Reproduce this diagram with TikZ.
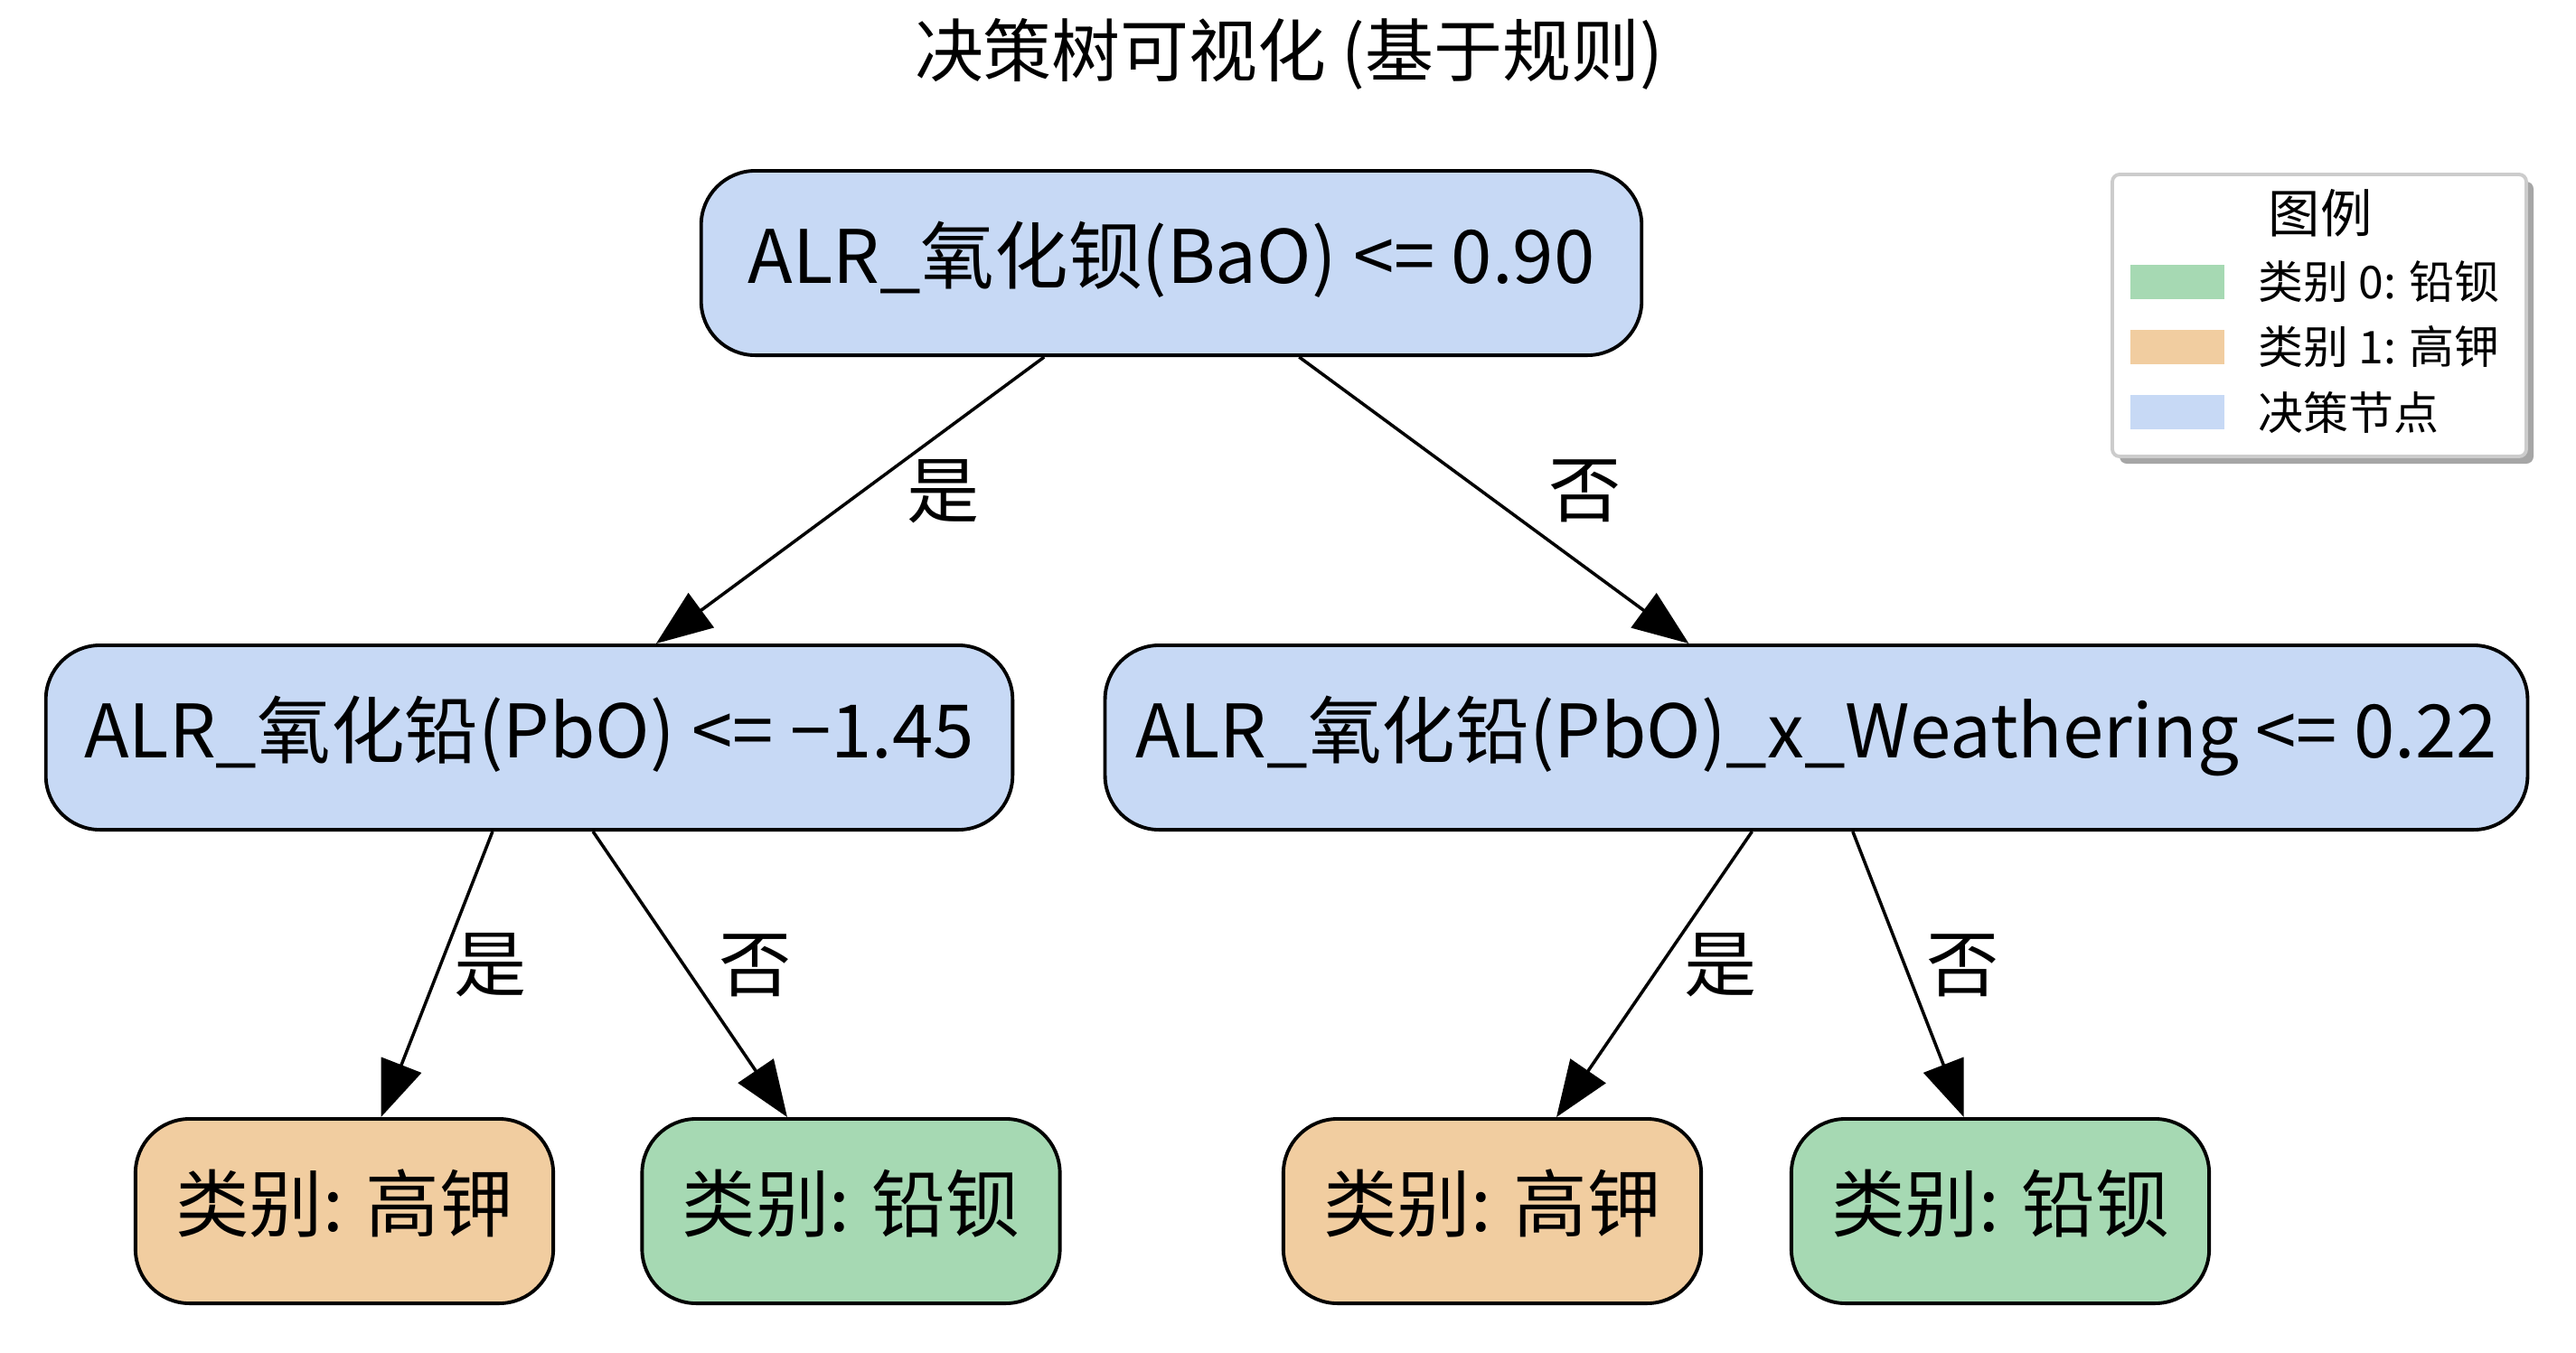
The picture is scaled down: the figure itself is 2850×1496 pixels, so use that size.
\documentclass[tikz,border=0pt]{standalone}
\usepackage{fontspec}
\setmainfont{Noto Sans CJK SC}
\usetikzlibrary{arrows.meta}
\definecolor{decblue}{RGB}{199,217,245}
\definecolor{potorange}{RGB}{241,205,160}
\definecolor{leadgreen}{RGB}{166,217,179}
\definecolor{legframe}{RGB}{204,204,204}
\definecolor{legshadow}{RGB}{166,166,166}
\begin{document}
\begin{tikzpicture}
    [x=0.01cm, y=-0.01cm,
    box/.style={draw=black, line width=1.1pt, rounded corners=0.6cm, minimum height=2.04cm, inner sep=0pt, text height=0.68cm, text depth=0.24cm, font=\fontsize{23.2}{27}\selectfont},
    decision/.style={box, fill=decblue},
    potash/.style={box, fill=potorange, minimum width=4.62cm},
    leadba/.style={box, fill=leadgreen, minimum width=4.62cm},
    branch/.style={-{Triangle[length=0.62cm, width=0.47cm]}, line width=1pt},
    answer/.style={font=\fontsize{22.8}{27}\selectfont},
    swatch/.style={minimum width=1.04cm, minimum height=0.38cm, inner sep=0pt},
    legtext/.style={anchor=west, font=\fontsize{14.2}{17}\selectfont}]
    \fill[white] (0,0) rectangle (2850,1496);
    \useasboundingbox (0,0) rectangle (2850,1496);
    %title
    \node[font=\fontsize{21.6}{26}\selectfont] (title) at (1426,60) {决策树可视化 (基于规则)};
    %tree nodes
    \node[decision, minimum width=10.40cm] (root) at (1296,291) {ALR\_氧化钡(BaO) <= 0.90};
    \node[decision, minimum width=10.69cm] (pbo) at (585.5,816) {ALR\_氧化铅(PbO) <= −1.45};
    \node[decision, minimum width=15.73cm] (pbow) at (2009.5,816) {ALR\_氧化铅(PbO)\_x\_Weathering <= 0.22};
    \node[potash] (leafa) at (381,1340) {类别: 高钾};
    \node[leadba] (leafb) at (941.5,1340) {类别: 铅钡};
    \node[potash] (leafc) at (1651,1340) {类别: 高钾};
    \node[leadba] (leafd) at (2213,1340) {类别: 铅钡};
    %branches
    \draw[branch] (root) -- (pbo) node[answer, midway, xshift=1.03cm, yshift=0.1cm] (yesa) {是};
    \draw[branch] (root) -- (pbow) node[answer, midway, xshift=1.01cm, yshift=0.1cm] (noa) {否};
    \draw[branch] (pbo) -- (leafa) node[answer, midway, xshift=0.59cm, yshift=0.1cm] (yesb) {是};
    \draw[branch] (pbo) -- (leafb) node[answer, midway, xshift=0.725cm, yshift=0.1cm] (nob) {否};
    \draw[branch] (pbow) -- (leafc) node[answer, midway, xshift=0.73cm, yshift=0.1cm] (yesc) {是};
    \draw[branch] (pbow) -- (leafd) node[answer, midway, xshift=0.6cm, yshift=0.1cm] (nod) {否};
    %legend
    \fill[legshadow, rounded corners=0.08cm] (2345,201) rectangle (2803,513);
    \draw[legframe, fill=white, line width=1.1pt, rounded corners=0.08cm] (2337,193) rectangle (2795,505);
    \node[font=\fontsize{16.3}{19}\selectfont] (legtitle) at (2567,236) {图例};
    \node[swatch, fill=leadgreen] (swa) at (2409,312) {};
    \node[swatch, fill=potorange] (swb) at (2409,384) {};
    \node[swatch, fill=decblue] (swc) at (2409,456) {};
    \node[legtext] (lega) at (2486,312) {类别 0: 铅钡};
    \node[legtext] (legb) at (2486,384) {类别 1: 高钾};
    \node[legtext] (legc) at (2486,456) {决策节点};
\end{tikzpicture}
\end{document}
